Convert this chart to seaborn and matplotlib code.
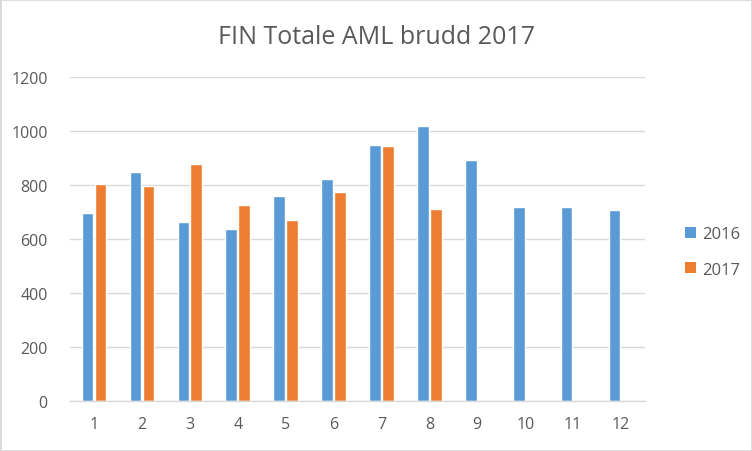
import numpy as np
import pandas as pd
import matplotlib
matplotlib.use("Agg")
import matplotlib.pyplot as plt
import seaborn as sns
from matplotlib.patches import Rectangle, Patch

months = ["1", "2", "3", "4", "5", "6", "7", "8", "9", "10", "11", "12"]
values_2016 = [697, 849, 663, 638, 759, 823, 949, 1020, 893, 720, 720, 708]
values_2017 = [805, 797, 879, 727, 671, 775, 945, 712, np.nan, np.nan, np.nan, np.nan]
series = ["2016", "2017"]
colors = ["#5B9BD5", "#ED7D31"]
title = "FIN Totale AML brudd 2017"

df = pd.DataFrame({
    "month": months * 2,
    "value": values_2016 + values_2017,
    "year": [series[0]] * 12 + [series[1]] * 12,
})

sns.set_theme(style="white")
plt.rcParams["font.family"] = ["Open Sans", "DejaVu Sans"]

fig = plt.figure(figsize=(7.52, 4.52), dpi=100)
ax = fig.add_axes([70 / 752, 1 - 402 / 452, 575 / 752, 324 / 452])

sns.barplot(data=df, x="month", y="value", hue="year", order=months,
            hue_order=series, palette=colors, width=0.54, gap=0.1,
            ax=ax, legend=False, saturation=1)

ax.set_ylim(0, 1200)
ax.set_yticks(range(0, 1201, 200))
ax.set_xlim(-0.5, 11.5)
ax.grid(axis="y", color="#D9D9D9", linewidth=1)
ax.set_axisbelow(True)
for s in ["top", "right", "left"]:
    ax.spines[s].set_visible(False)
ax.spines["bottom"].set_color("#D9D9D9")
ax.spines["bottom"].set_linewidth(1)
ax.tick_params(axis="both", length=0, labelsize=11.5, colors="#595959")
ax.tick_params(axis="y", pad=16)
ax.tick_params(axis="x", pad=11)
ax.set_xlabel("")
ax.set_ylabel("")

fig.text(0.5, 1 - 37 / 452, title, ha="center", va="center", fontsize=18, color="#595959")

handles = [Patch(facecolor=c, edgecolor="none") for c in colors]
fig.legend(handles, series, loc="center left", bbox_to_anchor=(670 / 752, 1 - 253 / 452),
           frameon=False, fontsize=12, labelcolor="#595959", handlelength=0.65,
           handleheight=0.65, labelspacing=1.15, handletextpad=0.4)

fig.patches.append(Rectangle((0, 0), 1, 1, transform=fig.transFigure, fill=False,
                             edgecolor="#D9D9D9", linewidth=2))

fig.savefig("out.png", dpi=100)
